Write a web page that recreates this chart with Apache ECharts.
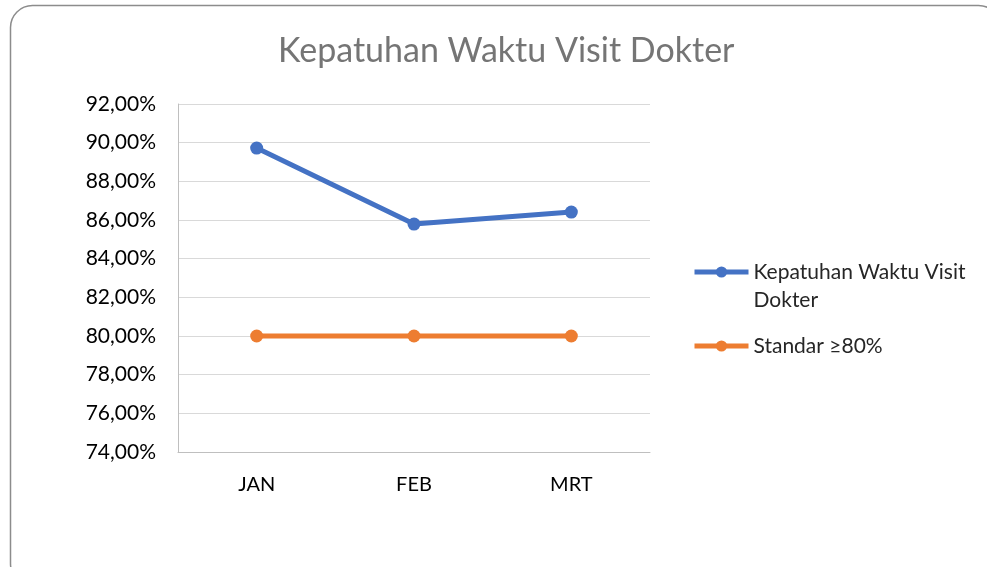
<!DOCTYPE html>
<html><head><meta charset="utf-8">
<script src="https://cdn.jsdelivr.net/npm/echarts@6/dist/echarts.min.js"></script>
<style>html,body{margin:0;padding:0;background:#fff}#c{width:987px;height:567px}</style>
</head><body><div id="c"></div>
<script>
const categories = ['JAN', 'FEB', 'MRT'];
const kepatuhan = [89.72, 85.79, 86.41];
const standar = [80, 80, 80];
const seriesNames = ['Kepatuhan Waktu Visit Dokter', 'Standar \u226580%'];
const titleText = 'Kepatuhan Waktu Visit Dokter';
const FONT = 'Lato, "Open Sans", sans-serif';

const chart = echarts.init(document.getElementById('c'));
chart.setOption({
  animation: false,
  graphic: [{
    type: 'rect', silent: true, z: -1,
    shape: { x: 10.5, y: 5.5, width: 990, height: 580, r: 22 },
    style: { fill: '#fff', stroke: '#8c8c8c', lineWidth: 1.5 }
  }],
  title: {
    text: titleText, left: 273, top: 29,
    textStyle: { fontFamily: FONT, fontSize: 34, fontWeight: 'normal', color: '#757575' }
  },
  legend: {
    orient: 'vertical', left: 692, top: 230, itemGap: 18, padding: 0,
    itemWidth: 54, itemHeight: 14,
    lineStyle: { width: 5 },
    data: seriesNames,
    formatter: name => (name === seriesNames[0] ? '\n' : '') + name,
    textStyle: { fontFamily: FONT, fontSize: 21, color: '#262626', width: 232, overflow: 'break', lineHeight: 28 }
  },
  grid: { left: 178, right: 337, top: 104, bottom: 115 },
  xAxis: {
    type: 'category', data: categories, boundaryGap: true,
    axisLine: { lineStyle: { color: '#bfbfbf', width: 1 } },
    axisTick: { show: false },
    axisLabel: { fontFamily: FONT, fontSize: 20, color: '#000', margin: 23 }
  },
  yAxis: {
    type: 'value', min: 74, max: 92, interval: 2,
    axisLine: { show: true, lineStyle: { color: '#bfbfbf', width: 1 } },
    axisTick: { show: false },
    splitLine: { lineStyle: { color: '#d9d9d9', width: 1 } },
    axisLabel: { fontFamily: FONT, fontSize: 21, color: '#000', margin: 22,
      formatter: v => v.toFixed(2).replace('.', ',') + '%' }
  },
  series: [
    { name: seriesNames[0], type: 'line', data: kepatuhan, symbol: 'circle', symbolSize: 13,
      lineStyle: { width: 5, color: '#4472C4' }, itemStyle: { color: '#4472C4' } },
    { name: seriesNames[1], type: 'line', data: standar, symbol: 'circle', symbolSize: 13,
      lineStyle: { width: 5, color: '#ED7D31' }, itemStyle: { color: '#ED7D31' } }
  ]
});
</script></body></html>
